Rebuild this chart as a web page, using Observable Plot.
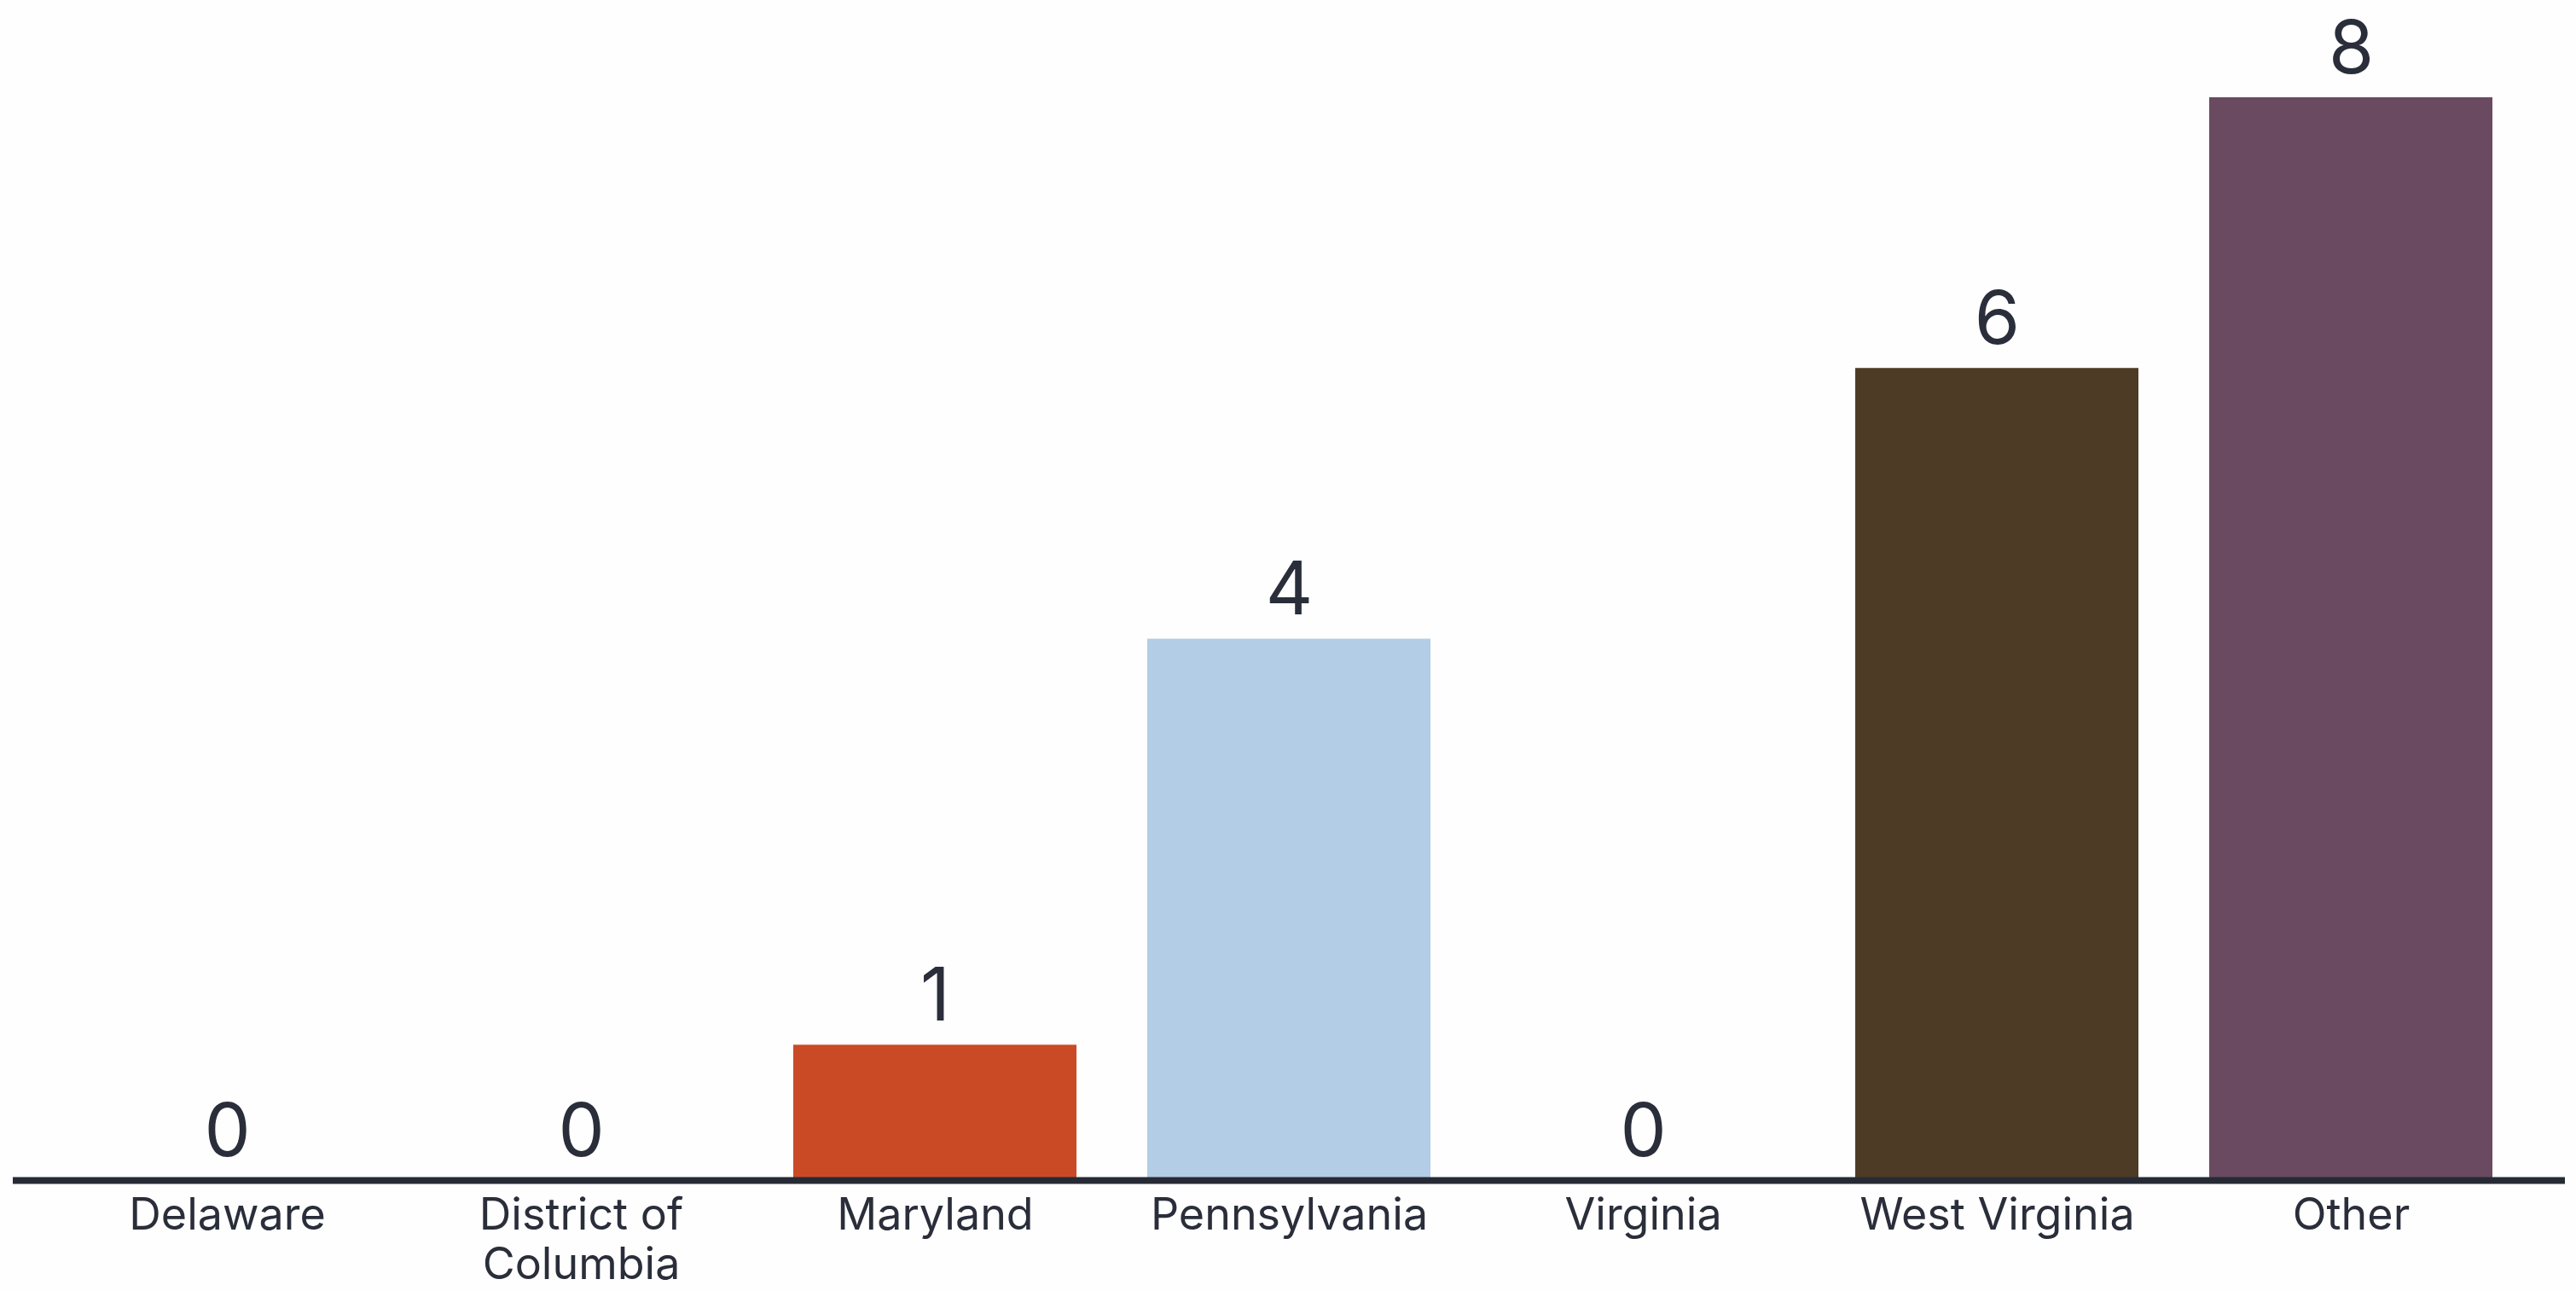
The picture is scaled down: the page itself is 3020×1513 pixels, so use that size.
<!DOCTYPE html>
<html><head><meta charset="utf-8">
<script src="https://cdn.jsdelivr.net/npm/d3@7"></script>
<script src="https://cdn.jsdelivr.net/npm/@observablehq/plot@0.6"></script>
<style>html,body{margin:0;padding:0;background:#fefefe;overflow:hidden;}</style>
</head><body><div id="chart"></div>
<script>
const categories = ["Delaware", "District of Columbia", "Maryland", "Pennsylvania", "Virginia", "West Virginia", "Other"];
const tickLabels = ["Delaware", "District of\nColumbia", "Maryland", "Pennsylvania", "Virginia", "West Virginia", "Other"];
const values = [0, 0, 1, 4, 0, 6, 8];
const colors = ["#c94a25", "#c94a25", "#c94a25", "#b2cde5", "#b2cde5", "#4e3b25", "#6a4a60"];

const data = categories.map((c, i) => ({state: c, count: values[i]}));
const ink = "#2a2e3a";

const chart = Plot.plot({
  width: 3020,
  height: 1513,
  marginLeft: 15,
  marginRight: 13,
  marginTop: 114,
  marginBottom: 130,
  x: {domain: categories, padding: 0.2, label: null},
  y: {domain: [0, 8], axis: null},
  color: {domain: categories, range: colors},
  style: {fontFamily: "Inter, 'Noto Sans', sans-serif", background: "#fefefe", color: ink},
  marks: [
    Plot.barY(data, {x: "state", y: "count", fill: "state"}),
    Plot.ruleY([0], {stroke: "#262a35", strokeWidth: 8}),
    Plot.text(data, {x: "state", y: "count", text: d => String(d.count), dy: -29, lineAnchor: "bottom", fontSize: 86, fill: ink}),
    Plot.axisX({
      tickSize: 0, tickPadding: 16, fontSize: 52, lineHeight: 1.12, fill: ink, label: null,
      tickFormat: d => tickLabels[categories.indexOf(d)]
    })
  ]
});
document.getElementById("chart").append(chart);
</script>
</body></html>
